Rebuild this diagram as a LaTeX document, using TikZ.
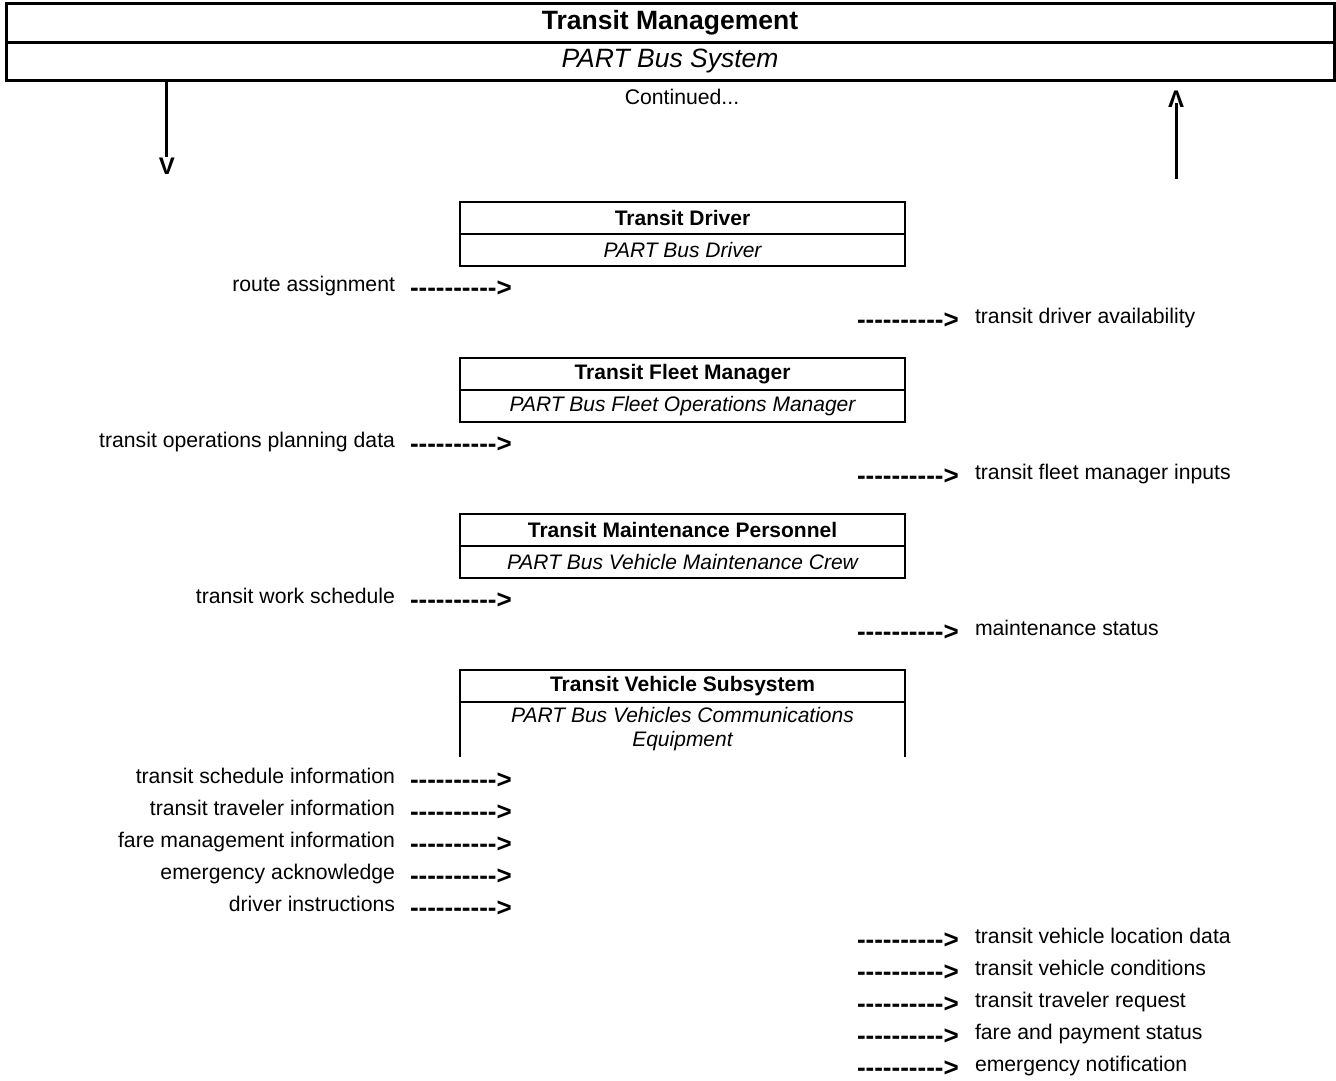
\documentclass[tikz,border=0pt]{standalone}
\usepackage{fontspec}
\setmainfont{Liberation Sans}
% plain hyphens, kept apart so that no dash ligature forms
\newcommand\flowdashes{-\kern0pt-\kern0pt-\kern0pt-\kern0pt-\kern0pt-\kern0pt-\kern0pt-\kern0pt-\kern0pt-\kern0pt>}
\begin{document}
\begin{tikzpicture}[x=1pt,y=-1pt,
  every node/.style={inner sep=0pt,outer sep=0pt},
  bigtitle/.style={draw,line width=3pt,minimum width=1328pt,minimum height=39pt,
    font=\fontsize{26.5}{30}\selectfont\bfseries},
  bigsub/.style={draw,line width=3pt,minimum width=1328pt,minimum height=38pt,
    font=\fontsize{26.5}{30}\selectfont\itshape},
  enttitle/.style={draw,line width=1.2pt,minimum width=445pt,minimum height=32pt,
    font=\fontsize{21}{25}\selectfont\bfseries},
  entsub/.style={draw,line width=1.2pt,minimum width=445pt,minimum height=32pt,
    font=\fontsize{21}{25}\selectfont\itshape},
  flowlbl/.style={font=\fontsize{21.2}{25}\selectfont},
  flowarrow/.style={font=\fontsize{26}{30}\selectfont\bfseries},
  tip/.style={font=\fontsize{24}{28}\selectfont\bfseries},
  link/.style={line width=3pt}]
\useasboundingbox (0,0) rectangle (1336,1080);

% Transit Management header
\node[bigtitle] (tm) at (670,22.5) {Transit Management};
\node[bigsub,anchor=north] (tmsub) at (tm.south) {PART Bus System};
\node[flowlbl] (cont) at (682,97) {Continued...};

% continuation arrows
\node[tip] (vdown) at (167,166) {V};
\draw[link] (tmsub.south -| 166,0) -- (166,157);
\node[tip] (vup) at (1176,99) {Λ};
\coordinate (upfoot) at (1176,179);
\draw[link] (upfoot) -- (1176,103);

% Transit Driver
\node[enttitle] (drv) at (682.5,218) {Transit Driver};
\node[entsub,anchor=north] (drvsub) at (drv.south) {PART Bus Driver};

% Transit Fleet Manager
\node[enttitle] (flt) at (682.5,374) {Transit Fleet Manager};
\node[entsub,anchor=north] (fltsub) at (flt.south) {PART Bus Fleet Operations Manager};

% Transit Maintenance Personnel
\node[enttitle] (mnt) at (682.5,530) {Transit Maintenance Personnel};
\node[entsub,anchor=north] (mntsub) at (mnt.south) {PART Bus Vehicle Maintenance Crew};

% Transit Vehicle Subsystem (open at the bottom)
\node[enttitle] (tvs) at (682.5,686) {Transit Vehicle Subsystem};
\node[anchor=north,minimum width=445pt,minimum height=55pt,align=center,
  font=\fontsize{21}{24}\selectfont\itshape] (tvssub) at (tvs.south)
  {PART Bus Vehicles Communications\\Equipment};
\draw[line width=1.2pt] (tvssub.north west) -- (tvssub.south west);
\draw[line width=1.2pt] (tvssub.north east) -- (tvssub.south east);

% incoming flows (left column)
\foreach \n/\y/\t in {a/284/route assignment,
  b/440/transit operations planning data,
  c/596/transit work schedule,
  d/776/transit schedule information,
  e/808/transit traveler information,
  f/840/fare management information,
  g/872/emergency acknowledge,
  h/904/driver instructions}{
  \node[flowlbl,anchor=base east] (in\n) at (395,\y+7) {\t};
  \node[flowarrow,anchor=base west] (inarr\n) at (410,\y+12) {\flowdashes};
}

% outgoing flows (right column)
\foreach \n/\y/\t in {a/316/transit driver availability,
  b/472/transit fleet manager inputs,
  c/628/maintenance status,
  d/936/transit vehicle location data,
  e/968/transit vehicle conditions,
  f/1000/transit traveler request,
  g/1032/fare and payment status,
  h/1064/emergency notification}{
  \node[flowarrow,anchor=base west] (outarr\n) at (857,\y+12) {\flowdashes};
  \node[flowlbl,anchor=base west] (out\n) at (975,\y+7) {\t};
}
\end{tikzpicture}
\end{document}
